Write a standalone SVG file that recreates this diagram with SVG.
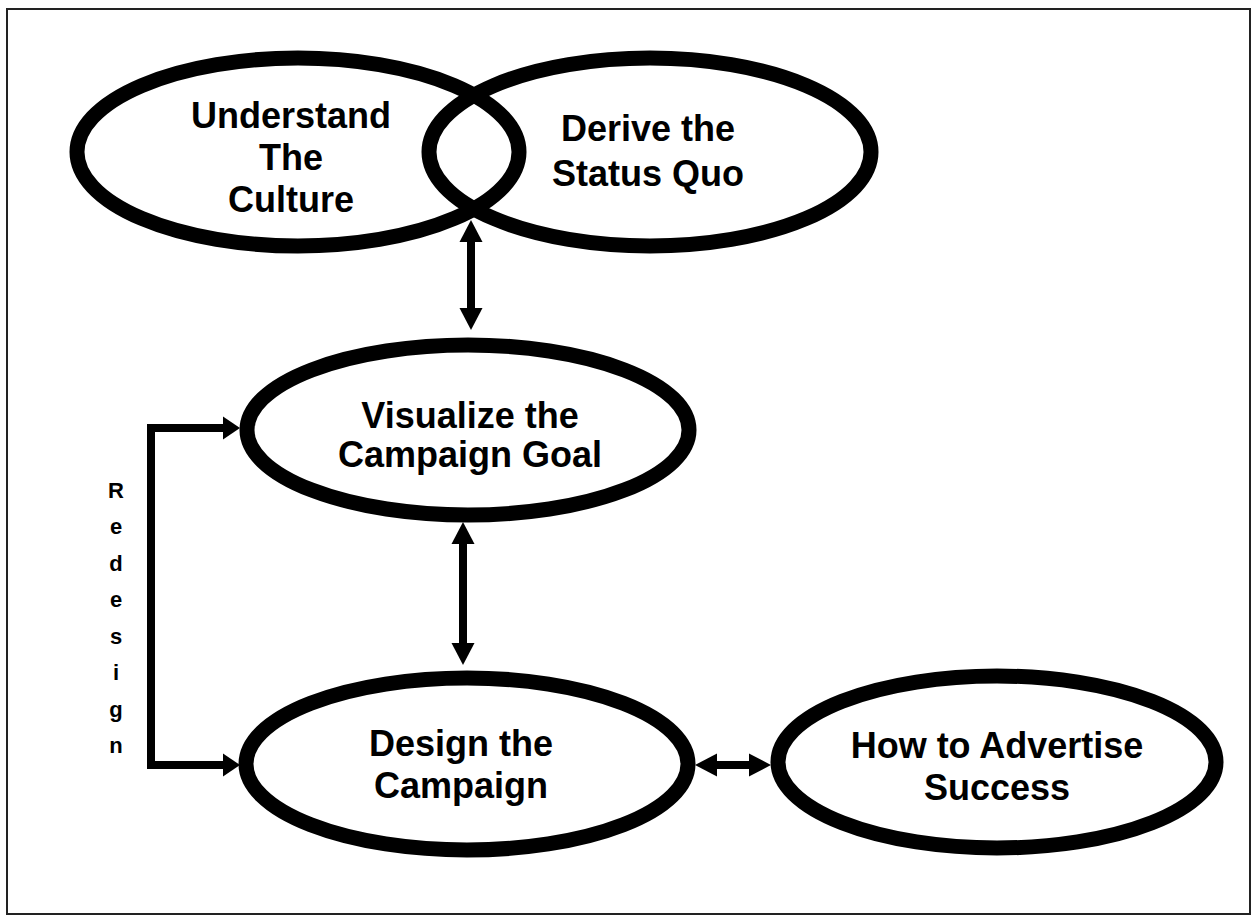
<svg xmlns="http://www.w3.org/2000/svg" width="1254" height="918" viewBox="0 0 1254 918">
<style>
.node{fill:none;stroke:#000;stroke-width:15}
.lbl{font-family:"Liberation Sans",Arial,sans-serif;font-weight:bold;font-size:36px;fill:#000;text-anchor:middle}
.red{font-family:"Liberation Sans",Arial,sans-serif;font-weight:bold;font-size:22px;fill:#000;text-anchor:middle}
.conn{fill:none;stroke:#000;stroke-width:8}
</style>
<defs>
<marker id="ah" markerUnits="userSpaceOnUse" markerWidth="22" markerHeight="24" refX="2" refY="12" orient="auto-start-reverse"><path d="M0,0.5 L22,12 L0,23.5 z" fill="#000"/></marker>
<marker id="ahs" markerUnits="userSpaceOnUse" markerWidth="17" markerHeight="24" refX="2" refY="12" orient="auto-start-reverse"><path d="M0,0.5 L17,12 L0,23.5 z" fill="#000"/></marker>
</defs>
<rect x="0" y="0" width="1254" height="918" fill="#fff"/>
<rect x="7" y="9" width="1243" height="905" fill="none" stroke="#222" stroke-width="2"/>
<g id="connectors">
<line class="conn" x1="471" y1="240" x2="471" y2="310" marker-start="url(#ah)" marker-end="url(#ah)"/>
<line class="conn" x1="463" y1="542" x2="463" y2="645" marker-start="url(#ah)" marker-end="url(#ah)"/>
<line class="conn" x1="715" y1="765" x2="751" y2="765" marker-start="url(#ah)" marker-end="url(#ah)"/>
<path class="conn" d="M225,428 H151 V765 H225" marker-start="url(#ahs)" marker-end="url(#ahs)"/>
<g id="redesign-label">
<text class="red" x="116" y="498">R</text>
<text class="red" x="116" y="534">e</text>
<text class="red" x="116" y="571">d</text>
<text class="red" x="116" y="607">e</text>
<text class="red" x="116" y="644">s</text>
<text class="red" x="116" y="680">i</text>
<text class="red" x="116" y="717">g</text>
<text class="red" x="116" y="753">n</text>
</g>
</g>
<g id="understand">
<ellipse class="node" cx="298" cy="152" rx="221" ry="94"/>
<text class="lbl" x="291" y="128">Understand</text>
<text class="lbl" x="291" y="170">The</text>
<text class="lbl" x="291" y="212">Culture</text>
</g>
<g id="derive">
<ellipse class="node" cx="650" cy="152" rx="221" ry="94"/>
<text class="lbl" x="648" y="141">Derive the</text>
<text class="lbl" x="648" y="186">Status Quo</text>
</g>
<g id="visualize">
<ellipse class="node" cx="468" cy="430" rx="221" ry="85"/>
<text class="lbl" x="470" y="428">Visualize the</text>
<text class="lbl" x="470" y="467">Campaign Goal</text>
</g>
<g id="design">
<ellipse class="node" cx="467" cy="764" rx="221" ry="86"/>
<text class="lbl" x="461" y="756">Design the</text>
<text class="lbl" x="461" y="798">Campaign</text>
</g>
<g id="advertise">
<ellipse class="node" cx="997" cy="762" rx="219" ry="86"/>
<text class="lbl" x="997" y="758">How to Advertise</text>
<text class="lbl" x="997" y="800">Success</text>
</g>
</svg>
